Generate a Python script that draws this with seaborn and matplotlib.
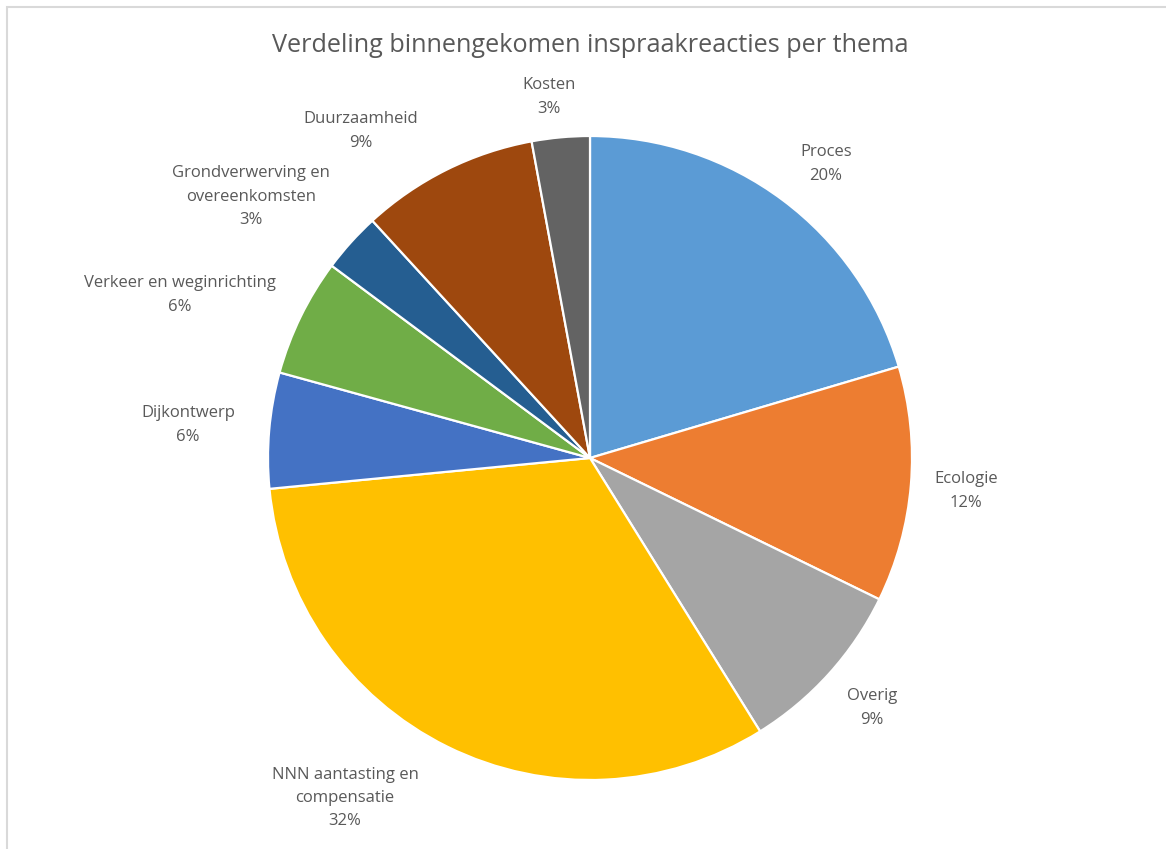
import matplotlib
matplotlib.use("Agg")
import matplotlib.pyplot as plt
from matplotlib.patches import Rectangle
import seaborn as sns

sns.set_theme(style="white")
plt.rcParams['font.family'] = ['Open Sans', 'DejaVu Sans']

themas = ["Proces", "Ecologie", "Overig", "NNN aantasting en\ncompensatie",
          "Dijkontwerp", "Verkeer en weginrichting",
          "Grondverwerving en\novereenkomsten", "Duurzaamheid", "Kosten"]
aandeel = [20.4, 11.8, 8.9, 32.3, 5.8, 5.9, 3.0, 8.9, 2.9]
kleuren = ["#5B9BD5", "#ED7D31", "#A5A5A5", "#FFC000", "#4472C4",
           "#70AD47", "#255E91", "#9E480E", "#636363"]

# label positions in units of pie radius (layout only)
label_pos = [(0.733, 0.913), (1.168, -0.102), (0.876, -0.776), (-0.761, -1.056),
             (-1.248, 0.102), (-1.273, 0.506), (-1.053, 0.811), (-0.711, 1.016),
             (-0.127, 1.121)]

W, H = 1166, 849
cx, cy, r = 590, 458, 322

fig = plt.figure(figsize=(W / 100, H / 100), dpi=100)
ax = fig.add_axes([0, 0, 1, 1])

totaal = sum(aandeel)
wedges, _ = ax.pie(aandeel, colors=sns.color_palette(kleuren), startangle=90,
                   counterclock=False, radius=1,
                   wedgeprops=dict(edgecolor="white", linewidth=1.6))

for naam, p, (lx, ly) in zip(themas, aandeel, label_pos):
    ax.text(lx, ly, f"{naam}\n{100 * p / totaal:.0f}%", ha="center", va="center",
            fontsize=12, color="#595959", linespacing=1.62)

ax.set_xlim(-cx / r, (W - cx) / r)
ax.set_ylim((cy - H) / r, cy / r)
ax.set_aspect("auto")
ax.axis("off")

fig.text(590 / W, 1 - 45 / H, "Verdeling binnengekomen inspraakreacties per thema",
         ha="center", va="center", fontsize=18.2, color="#595959")

# chart area border (cropped on right and bottom)
fig.patches.append(Rectangle((6.5 / W, -0.1), 1.2, 1 - 6.5 / H + 0.1,
                             transform=fig.transFigure, fill=False,
                             edgecolor="#D9D9D9", linewidth=1.5))

fig.savefig("out.png", dpi=100)
